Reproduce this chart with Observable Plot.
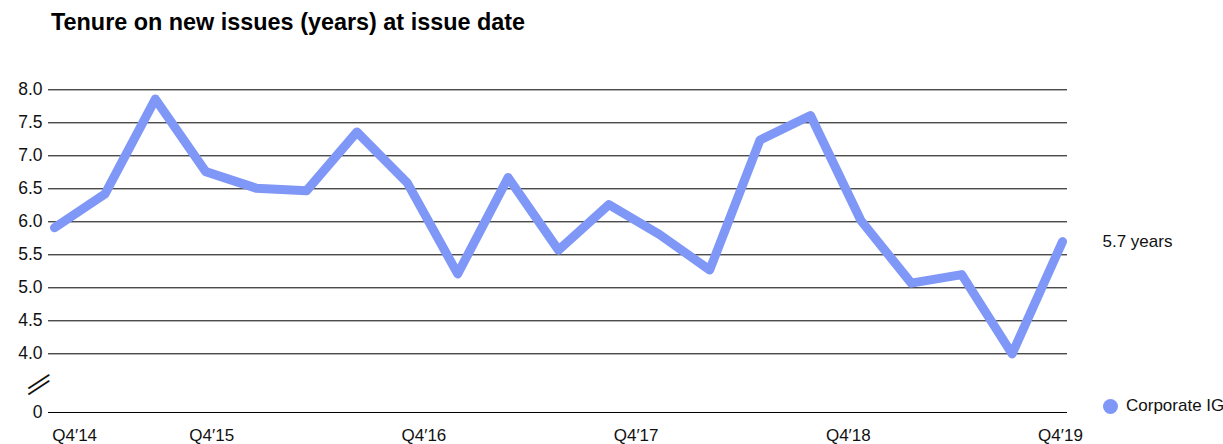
<!DOCTYPE html>
<html>
<head>
<meta charset="utf-8">
<script src="https://cdn.jsdelivr.net/npm/d3@7"></script>
<script src="https://cdn.jsdelivr.net/npm/@observablehq/plot@0.6"></script>
<style>
  html, body { margin: 0; padding: 0; background: #fff; overflow: hidden; }
  #wrap { position: relative; width: 1223px; height: 444px; font-family: "Liberation Sans", Arial, sans-serif; color: #111; }
  #title { height: 44px; box-sizing: border-box; padding: 9px 0 0 51px; font-size: 23.4px; line-height: 26px; font-weight: bold; color: #000; }
  #legend { position: absolute; left: 1103px; top: 396px; height: 20px; display: flex; align-items: center; white-space: nowrap; font-size: 17px; }
  #legend .sw { width: 15px; height: 15px; border-radius: 50%; margin-right: 8px; }
  svg { display: block; }
</style>
</head>
<body>
<div id="wrap">
  <div id="title">Tenure on new issues (years) at issue date</div>
  <div id="chart"></div>
  <div id="legend"><span class="sw"></span><span id="legend-label"></span></div>
</div>
<script>
// ---- data ----
const quarters = ["Q4′14","Q1′15","Q2′15","Q3′15","Q4′15","Q1′16","Q2′16","Q3′16","Q4′16","Q1′17","Q2′17",
                  "Q3′17","Q4′17","Q1′18","Q2′18","Q3′18","Q4′18","Q1′19","Q2′19","Q3′19","Q4′19"];
const tenure = [5.91, 6.42, 7.86, 6.76, 6.51, 6.47, 7.36, 6.59, 5.21, 6.67, 5.57,
                6.26, 5.81, 5.27, 7.24, 7.61, 6.02, 5.07, 5.20, 3.99, 5.70];
const seriesName = "Corporate IG";
const yTicks = [0, 4, 4.5, 5, 5.5, 6, 6.5, 7, 7.5, 8];
const xTickLabels = ["Q4′14", "Q4′15", "Q4′16", "Q4′17", "Q4′18", "Q4′19"];
const xTickAt = [0.4, 3.12, 7.33, 11.54, 15.75, 19.96]; // quarter index where each label is printed
const axisBreakAt = [2];

const color = "#7f97f6";
const data = quarters.map((q, i) => ({i, q, v: tenure[i]}));
const last = data[data.length - 1];

const chart = Plot.plot({
  width: 1223,
  height: 400,
  marginLeft: 48,
  marginRight: 156,
  marginTop: 0,
  marginBottom: 32,
  x: {type: "linear", domain: [0, quarters.length - 1], range: [54, 1062]},
  y: {type: "linear", domain: [0, 4, 8], range: [368, 309.3, 45.3]},
  style: {fontFamily: '"Liberation Sans", Arial, sans-serif', fontSize: "17px", color: "#111", background: "white"},
  marks: [
    Plot.ruleY(yTicks, {stroke: "#000", strokeWidth: 1}),
    Plot.axisY({ticks: yTicks, tickSize: 0, tickPadding: 6, fontSize: 17.5, label: null,
                tickFormat: d => d === 0 ? "0" : d.toFixed(1)}),
    Plot.axisX({ticks: xTickAt, tickSize: 0, tickPadding: 16, fontSize: 17, label: null,
                tickFormat: d => xTickLabels[xTickAt.indexOf(d)]}),
    Plot.line(data, {x: "i", y: "v", stroke: color, strokeWidth: 9,
                     strokeLinejoin: "round", strokeLinecap: "round"}),
    Plot.text([last], {x: "i", y: "v", text: d => `${d.v.toFixed(1)} years`,
                       textAnchor: "start", dx: 40, fontSize: 17, fill: "#111"}),
    Plot.text(axisBreakAt, {y: d => d, text: () => "—", frameAnchor: "left",
                            dx: -21, dy: 4, rotate: -33, fontSize: 25, fill: "#111"}),
    Plot.text(axisBreakAt, {y: d => d, text: () => "—", frameAnchor: "left",
                            dx: -21, dy: 10, rotate: -33, fontSize: 25, fill: "#111"})
  ]
});
document.getElementById("chart").appendChild(chart);
document.querySelector("#legend .sw").style.background = color;
document.getElementById("legend-label").textContent = seriesName;
</script>
</body>
</html>
